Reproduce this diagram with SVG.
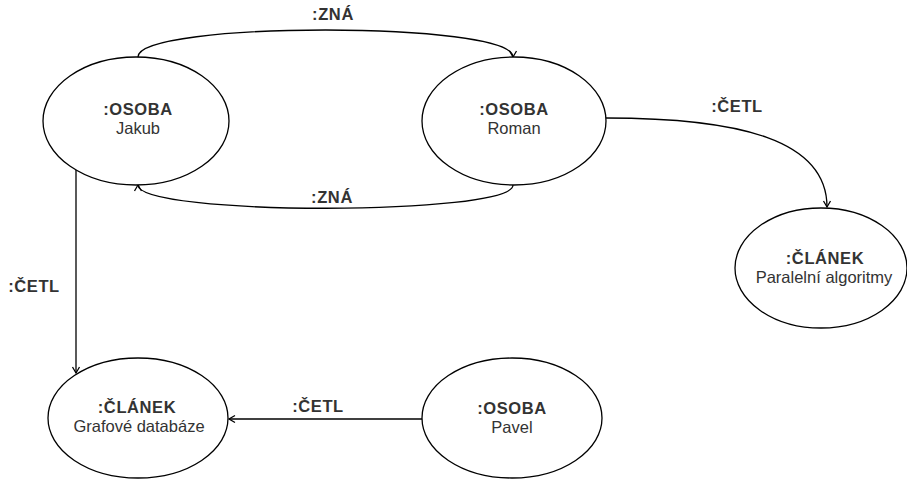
<svg xmlns="http://www.w3.org/2000/svg" width="907" height="481" viewBox="0 0 907 481">
<style>
.node ellipse{fill:#fff;stroke:#000;stroke-width:1.3}
text{font-family:"Liberation Sans",Arial,sans-serif;font-size:16.5px;fill:#333;text-anchor:middle}
.b{font-weight:bold;letter-spacing:0.6px}
.edge{fill:none;stroke:#000;stroke-width:1.3;marker-end:url(#arr)}
</style>
<defs>
<marker id="arr" markerUnits="userSpaceOnUse" markerWidth="14" markerHeight="14" viewBox="-8 -7 10 14" refX="0" refY="0" orient="auto">
<path d="M-6,-3.5 L0,0 L-6,3.5" fill="none" stroke="#000" stroke-width="1.3"/>
</marker>
</defs>
<g id="connectors">
<path class="edge" d="M138,57 C138,21 513,21 513,57"/>
<path class="edge" d="M513,185 C513,216 138,216 138,185"/>
<path class="edge" d="M606,118 C740,118 827,140 827,207"/>
<path class="edge" d="M76,170 L76,373"/>
<path class="edge" d="M422,419 L229,419"/>
<text class="b" x="333" y="20">:ZNÁ</text>
<text class="b" x="332" y="203">:ZNÁ</text>
<text class="b" x="737" y="112">:ČETL</text>
<text class="b" x="34" y="292">:ČETL</text>
<text class="b" x="318" y="412">:ČETL</text>
</g>
<g id="jakub" class="node">
<ellipse cx="136" cy="121" rx="93" ry="64"/>
<text class="b" x="138" y="115">:OSOBA</text>
<text x="138" y="134">Jakub</text>
</g>
<g id="roman" class="node">
<ellipse cx="514" cy="121" rx="92" ry="64"/>
<text class="b" x="514" y="115">:OSOBA</text>
<text x="514" y="134">Roman</text>
</g>
<g id="paralelni" class="node">
<ellipse cx="821" cy="268" rx="86" ry="60"/>
<text class="b" x="825" y="264">:ČLÁNEK</text>
<text x="824" y="283">Paralelní algoritmy</text>
</g>
<g id="grafove" class="node">
<ellipse cx="138" cy="418" rx="90" ry="60"/>
<text class="b" x="137" y="413">:ČLÁNEK</text>
<text x="139" y="432">Grafové databáze</text>
</g>
<g id="pavel" class="node">
<ellipse cx="512" cy="418" rx="90" ry="60"/>
<text class="b" x="512" y="414">:OSOBA</text>
<text x="512" y="433">Pavel</text>
</g>
</svg>
